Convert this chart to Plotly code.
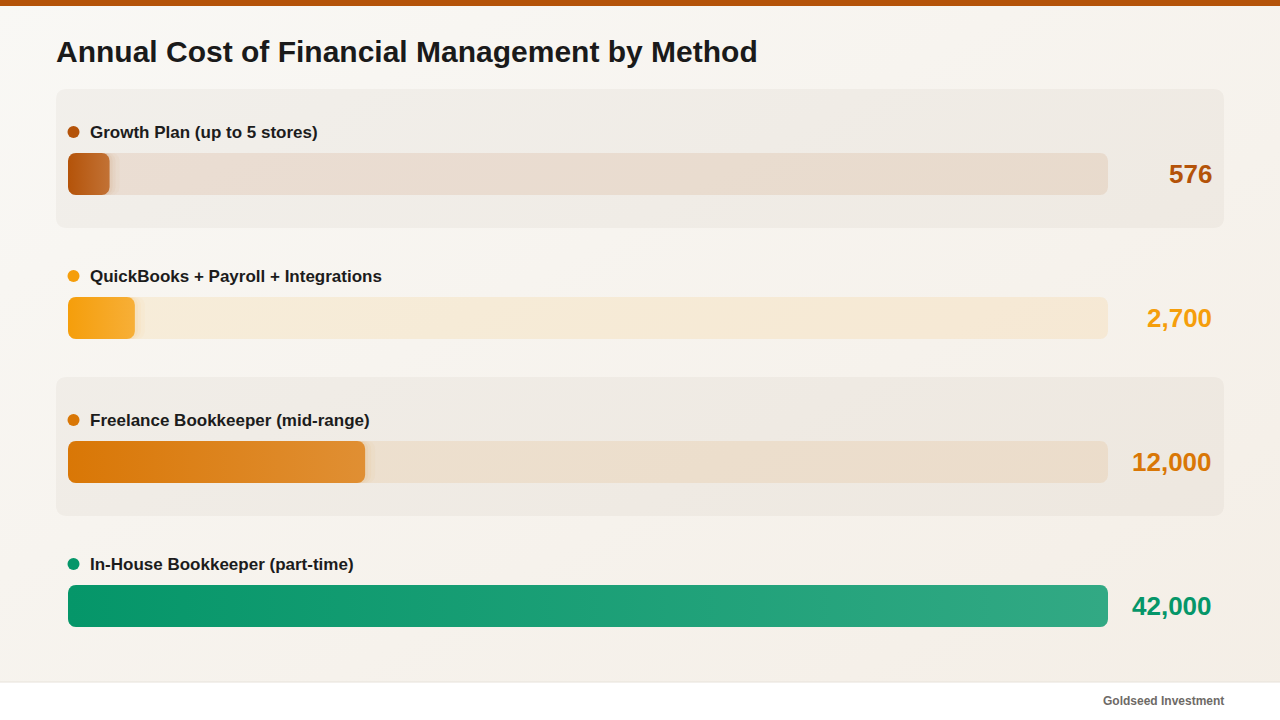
import base64
import plotly.graph_objects as go

# ---------------- data ----------------
categories = [
    "Growth Plan (up to 5 stores)",
    "QuickBooks + Payroll + Integrations",
    "Freelance Bookkeeper (mid-range)",
    "In-House Bookkeeper (part-time)",
]
values = [576, 2700, 12000, 42000]
colors = ["#B45309", "#F59E0B", "#D97706", "#059669"]
value_labels = [f"{v:,}" for v in values]
title = "Annual Cost of Financial Management by Method"
footer = "Goldseed Investment"

# ---------------- layout constants ----------------
W, H = 1280, 720
ROW_PX = 144            # px per row
ROW0_PX = 174           # bar centre of first row
X0_PX, X1_PX = 68, 1108 # bar track extent
BAR_H = 42
FONT = "Liberation Sans, Arial, Helvetica, sans-serif"

xmax = max(values)
px_x = xmax / (X1_PX - X0_PX)     # data units per px (x)
px_y = 1.0 / ROW_PX               # row units per px (y)


def mix(hexc, t, other=(255, 255, 255)):
    r, g, b = int(hexc[1:3], 16), int(hexc[3:5], 16), int(hexc[5:7], 16)
    r = round(r + (other[0] - r) * t)
    g = round(g + (other[1] - g) * t)
    b = round(b + (other[2] - b) * t)
    return f"rgb({r},{g},{b})"


def rgba(hexc, a):
    r, g, b = int(hexc[1:3], 16), int(hexc[3:5], 16), int(hexc[5:7], 16)
    return f"rgba({r},{g},{b},{a})"


def rounded_rect(x0, x1, yc, half_h, rx, ry, n=8):
    import math
    xs, ys = [], []
    corners = [
        (x1 - rx, yc - half_h + ry, -90, 0),
        (x1 - rx, yc + half_h - ry, 0, 90),
        (x0 + rx, yc + half_h - ry, 90, 180),
        (x0 + rx, yc - half_h + ry, 180, 270),
    ]
    for cx, cy, a0, a1 in corners:
        for k in range(n + 1):
            a = math.radians(a0 + (a1 - a0) * k / n)
            xs.append(cx + rx * math.cos(a))
            ys.append(cy + ry * math.sin(a))
    xs.append(xs[0])
    ys.append(ys[0])
    return xs, ys


fig = go.Figure()

half = BAR_H / 2 * px_y
rx = 8 * px_x
ry = 8 * px_y
min_w = 0.04 * xmax

for i, (cat, v, c) in enumerate(zip(categories, values, colors)):
    # track (full scale)
    xs, ys = rounded_rect(0, xmax, i, half, rx, ry)
    fig.add_trace(go.Scatter(x=xs, y=ys, mode="lines", fill="toself",
                             fillcolor=rgba(c, 0.1), line=dict(width=0),
                             hoverinfo="skip", showlegend=False))
    w = max(v, min_w)
    # soft glow (layered)
    for g_px, g_a in [(10, 0.03), (6, 0.04), (3, 0.05)]:
        gx, gy = rounded_rect(0, min(w + g_px * px_x, xmax), i, half, rx, ry)
        fig.add_trace(go.Scatter(x=gx, y=gy, mode="lines", fill="toself",
                                 fillcolor=rgba(c, g_a), line=dict(width=0),
                                 hoverinfo="skip", showlegend=False))
    # value bar with gradient
    xs, ys = rounded_rect(0, w, i, half, rx, ry)
    fig.add_trace(go.Scatter(
        x=xs, y=ys, mode="lines", fill="toself", line=dict(width=0),
        fillgradient=dict(type="horizontal",
                          colorscale=[[0, c], [1, mix(c, 0.18)]]),
        hoverinfo="skip", showlegend=False))

shapes = []
annotations = []

# top stripe
shapes.append(dict(type="rect", xref="paper", yref="paper", x0=0, x1=1,
                   y0=1 - 6 / H, y1=1, fillcolor="#B45309", line_width=0,
                   layer="above"))
# footer
shapes.append(dict(type="rect", xref="paper", yref="paper", x0=0, x1=1,
                   y0=0, y1=38 / H, fillcolor="#FFFFFF", line_width=0,
                   layer="below"))
shapes.append(dict(type="line", xref="paper", yref="paper", x0=0, x1=1,
                   y0=38 / H, y1=38 / H, line=dict(color="#E7E2DA", width=1),
                   layer="below"))


def panel_path(x0p, x1p, y0r, y1r, r):
    # x in paper, y in row units (reversed axis so y0r is top)
    rxp = r / W
    ryr = r / ROW_PX
    return (f"M {x0p + rxp} {y0r} L {x1p - rxp} {y0r} "
            f"Q {x1p} {y0r} {x1p} {y0r + ryr} L {x1p} {y1r - ryr} "
            f"Q {x1p} {y1r} {x1p - rxp} {y1r} L {x0p + rxp} {y1r} "
            f"Q {x0p} {y1r} {x0p} {y1r - ryr} L {x0p} {y0r + ryr} "
            f"Q {x0p} {y0r} {x0p + rxp} {y0r} Z")


ann_base = dict(showarrow=False, borderpad=0, borderwidth=0)

for i, (cat, v, c, lab) in enumerate(zip(categories, values, colors, value_labels)):
    if i % 2 == 0:
        shapes.append(dict(type="path", xref="paper", yref="y",
                           path=panel_path(56 / W, 1224 / W, i - 85 * px_y, i + 54 * px_y, 11),
                           fillcolor="rgba(90,70,40,0.045)", line_width=0,
                           layer="below"))
    ly = i - 42 * px_y
    shapes.append(dict(type="circle", xref="paper", yref="y",
                       x0=67.5 / W, x1=79.5 / W, y0=ly - 6 * px_y, y1=ly + 6 * px_y,
                       fillcolor=c, line_width=0))
    annotations.append(dict(xref="paper", yref="y", x=90 / W, y=ly,
                            xanchor="left", yanchor="middle",
                            text=f"<b>{cat}</b>",
                            font=dict(family=FONT, size=17, color="#1C1C1C"),
                            **ann_base))
    annotations.append(dict(xref="paper", yref="y", x=1212 / W, y=i,
                            xanchor="right", yanchor="middle",
                            text=f"<b>{lab}</b>",
                            font=dict(family=FONT, size=26, color=c),
                            **ann_base))

annotations.append(dict(xref="paper", yref="paper", x=56 / W, y=1 - 52 / H,
                        xanchor="left", yanchor="middle",
                        text=f"<b>{title}</b>",
                        font=dict(family=FONT, size=30, color="#1A1A1A"),
                        **ann_base))
annotations.append(dict(xref="paper", yref="paper", x=1224 / W, y=1 - 701 / H,
                        xanchor="right", yanchor="middle",
                        text=f"<b>{footer}</b>",
                        font=dict(family=FONT, size=12, color="#6E6A66"),
                        **ann_base))

# background gradient image
svg = (f'<svg xmlns="http://www.w3.org/2000/svg" width="{W}" height="{H}">'
       '<defs><linearGradient id="g" x1="0" y1="0" x2="1" y2="1">'
       '<stop offset="0" stop-color="#F9F8F5"/><stop offset="1" stop-color="#F4EEE6"/>'
       '</linearGradient></defs><rect width="100%" height="100%" fill="url(#g)"/></svg>')
src = "data:image/svg+xml;base64," + base64.b64encode(svg.encode()).decode()

fig.update_layout(
    width=W, height=H,
    margin=dict(l=0, r=0, t=0, b=0),
    paper_bgcolor="#F7F5F1",
    plot_bgcolor="rgba(0,0,0,0)",
    showlegend=False,
    xaxis=dict(domain=[X0_PX / W, X1_PX / W], range=[0, xmax], visible=False,
               fixedrange=True),
    yaxis=dict(domain=[0, 1],
               range=[(H - ROW0_PX) / ROW_PX, -ROW0_PX / ROW_PX],
               visible=False, fixedrange=True),
    shapes=shapes,
    annotations=annotations,
    images=[dict(source=src, xref="paper", yref="paper", x=0, y=1,
                 sizex=1, sizey=1, sizing="stretch", layer="below",
                 xanchor="left", yanchor="top")],
)

fig.write_html("out.html", config={"displayModeBar": False})
